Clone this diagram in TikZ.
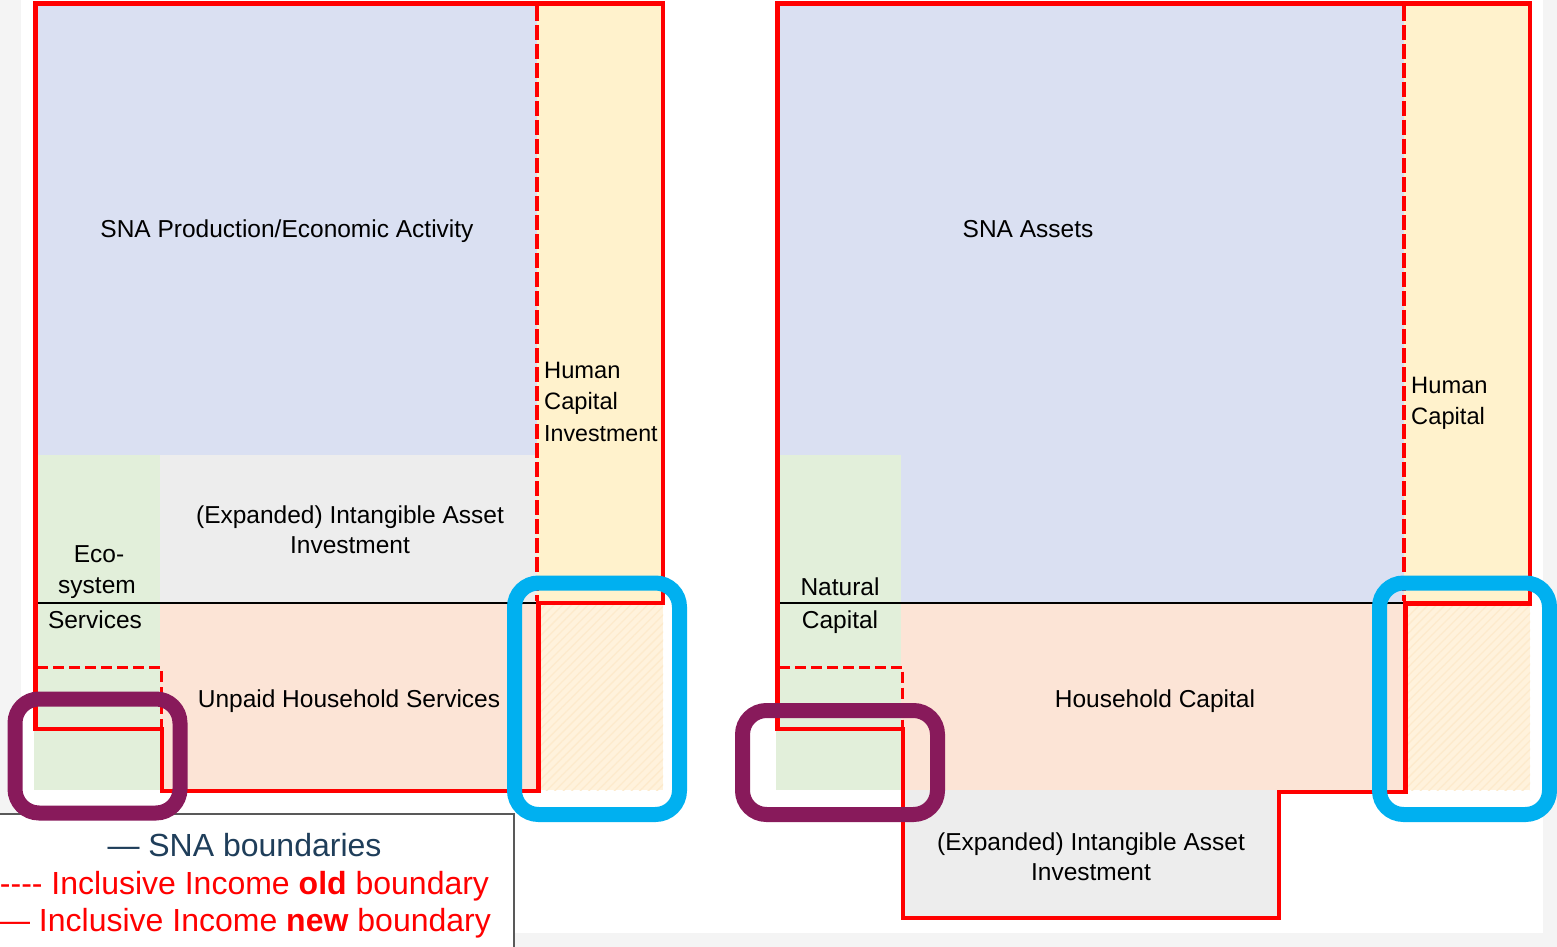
\documentclass[tikz,border=0pt]{standalone}
\usepackage{fontspec}
\setmainfont{Liberation Sans}
\usetikzlibrary{patterns.meta}
\definecolor{snablue}{RGB}{218,224,242}
\definecolor{hcyellow}{RGB}{255,242,204}
\definecolor{iagray}{RGB}{237,237,237}
\definecolor{ecogreen}{RGB}{226,239,218}
\definecolor{hhpink}{RGB}{252,228,214}
\definecolor{hatchbase}{RGB}{255,242,220}
\definecolor{hatchline}{RGB}{253,234,204}
\definecolor{bgray}{RGB}{244,244,244}
\definecolor{iired}{RGB}{255,0,0}
\definecolor{plum}{RGB}{136,26,91}
\definecolor{skyblue}{RGB}{0,176,240}
\definecolor{legdark}{RGB}{31,62,90}
\definecolor{legborder}{RGB}{89,89,89}
\begin{document}
\begin{tikzpicture}[x=1pt,y=-1pt,
  lbl/.style={inner sep=0pt, anchor=base, font=\fontsize{24.5}{31}\selectfont, text=black},
  lblw/.style={lbl, anchor=base west, font=\fontsize{23.7}{31}\selectfont},
  newb/.style={draw=iired, line width=4.5pt, line join=miter},
  oldb/.style={draw=iired, line width=4pt, dash pattern=on 15pt off 4pt},
  oldbs/.style={draw=iired, line width=3pt, dash pattern=on 11pt off 5pt},
  sep/.style={draw=black, line width=1.6pt},
  ring/.style={line width=15pt, rounded corners=24pt},
  hatched/.style={fill=hatchbase, postaction={pattern={Lines[angle=45,distance=6pt,line width=1.3pt]}, pattern color=hatchline}},
  legtxt/.style={inner sep=0pt, anchor=base, font=\fontsize{32}{38}\selectfont}
]
\clip (0,0) rectangle (1557,947);
% backgrounds
\fill[bgray] (0,0) rectangle (1557,947);
\fill[white] (21,0) rectangle (1543,933);

% ---- left panel fills
\fill[snablue] (37,5) rectangle (537,455);
\fill[hcyellow] (537,5) rectangle (662,603);
\fill[iagray] (160,455) rectangle (537,603);
\fill[ecogreen] (34,455) rectangle (160,790);
\fill[hhpink] (160,603) rectangle (537,790);
\path[hatched] (537,603) rectangle (663,790);

% ---- right panel fills
\fill[snablue] (779,5) rectangle (1404,603);
\fill[hcyellow] (1404,5) rectangle (1530,603);
\fill[ecogreen] (776,455) rectangle (901,790);
\fill[hhpink] (901,603) rectangle (1405,790);
\path[hatched] (1405,603) rectangle (1530,790);
\fill[iagray] (903,790) rectangle (1279,918);

% ---- SNA boundaries
\draw[sep] (37,603) -- (537,603);
\draw[sep] (779,603) -- (1405,603);

% ---- old boundaries (dashed)
\draw[oldb] (537,6) -- (537,601);
\draw[oldbs] (37,667) -- (161,667) -- (161,727);
\draw[oldb] (1404,6) -- (1404,601);
\draw[oldbs] (779,667) -- (902.5,667) -- (902.5,727);

% ---- new boundaries (solid)
\draw[newb] (35.5,729) -- (35.5,3.5) -- (663,3.5) -- (663,603) -- (538.5,603)
  -- (538.5,791) -- (162,791) -- (162,729) -- cycle;
\draw[newb] (777.5,729) -- (777.5,3.5) -- (1530,3.5) -- (1530,603.5) -- (1405.5,603.5)
  -- (1405.5,792) -- (1279,792) -- (1279,918) -- (903,918) -- (903,729) -- cycle;

% ---- labels left
\node[lbl] (snaprod) at (287,237) {SNA Production/Economic Activity};
\node[lblw] (hci1) at (544,378) {Human};
\node[lblw] (hci2) at (544,409.5) {Capital};
\node[lblw, font=\fontsize{23.2}{31}\selectfont] (hci3) at (544,441) {Investment};
\node[lbl] (iai1) at (350,523) {(Expanded) Intangible Asset};
\node[lbl] (iai2) at (350,553) {Investment};
\node[lbl] (eco1) at (99,562.5) {Eco-};
\node[lbl] (eco2) at (97,593) {system};
\node[lbl] (eco3) at (95,628) {Services};
\node[lbl] (uhs) at (349,707) {Unpaid Household Services};

% ---- labels right
\node[lbl] (snaas) at (1028,237) {SNA Assets};
\node[lblw] (hc1) at (1411,393) {Human};
\node[lblw] (hc2) at (1411,424) {Capital};
\node[lbl] (nc1) at (840,595) {Natural};
\node[lbl] (nc2) at (840,628) {Capital};
\node[lbl] (hhc) at (1155,707) {Household Capital};
\node[lbl] (iar1) at (1091,850) {(Expanded) Intangible Asset};
\node[lbl] (iar2) at (1091,880) {Investment};

% ---- legend
\draw[draw=legborder, line width=1.5pt, fill=white] (-10,814) rectangle (514,960);
\node[legtxt, text=legdark] (leg1) at (244.5,856) {— SNA boundaries};
\node[legtxt, text=iired] (leg2) at (244.5,894.5) {-\kern0pt-\kern0pt-\kern0pt- Inclusive Income \textbf{old} boundary};
\node[legtxt, text=iired] (leg3) at (244.5,931.5) {— Inclusive Income \textbf{new} boundary};

% ---- highlight rings
\draw[ring, draw=plum] (15,699) rectangle (180,813);
\draw[ring, draw=plum] (742.5,710.5) rectangle (937.5,814.5);
\draw[ring, draw=skyblue] (514.5,583) rectangle (679.5,814.5);
\draw[ring, draw=skyblue] (1379.5,583) rectangle (1549.5,814.5);
\end{tikzpicture}
\end{document}
